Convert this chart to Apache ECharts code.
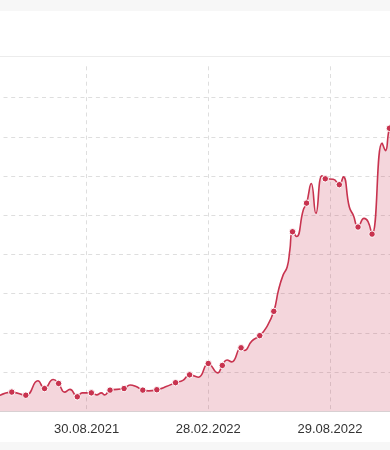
<!DOCTYPE html>
<html><head><meta charset="utf-8">
<script src="https://cdn.jsdelivr.net/npm/echarts@6/dist/echarts.min.js"></script>
<style>html,body{margin:0;padding:0;background:#fff;overflow:hidden;width:390px;height:450px;position:relative}#c{position:absolute;left:-35px;top:0;width:487px;height:450px}</style>
</head><body><div id="c"></div>
<script>
const dates = ['2021-04-13','2021-05-10','2021-05-31','2021-06-18','2021-06-28','2021-07-11','2021-07-19','2021-07-28','2021-08-05','2021-08-16','2021-08-23','2021-09-06','2021-09-14','2021-09-21','2021-09-26','2021-10-04','2021-10-25','2021-11-03','2021-11-12','2021-11-22','2021-12-01','2021-12-13','2021-12-27','2022-01-10','2022-01-21','2022-01-31','2022-02-13','2022-02-28','2022-03-14','2022-03-21','2022-03-28','2022-04-04','2022-04-18','2022-04-23','2022-05-04','2022-05-16','2022-05-26','2022-06-06','2022-06-13','2022-06-20','2022-06-26','2022-06-30','2022-07-04','2022-07-10','2022-07-20','2022-07-25','2022-08-01','2022-08-08','2022-08-17','2022-08-22','2022-09-03','2022-09-12','2022-09-18','2022-09-27','2022-10-03','2022-10-10','2022-10-19','2022-10-25','2022-10-31','2022-11-15','2022-11-20','2022-11-26','2022-12-06'];
const values = [3.1,4.9,4.1,7.8,5.8,8.1,7.1,4.9,5.6,3.7,4.7,4.7,4.2,4.7,4.2,5.4,5.8,6.7,6.3,5.4,5.2,5.5,6.3,7.3,7.9,9.3,8.7,12.2,9.8,11.7,13.1,12.6,16.2,15.5,17.9,19.3,21.4,25.5,30.9,34.8,36.8,41.1,45.8,44.6,51.3,53.1,58.1,50.5,60.1,59.3,59.2,57.8,59.8,52.1,50.0,47.0,49.2,48.4,45.2,68.4,66.5,72.2,76.4];
const dotDates = ['2021-05-10','2021-05-31','2021-06-28','2021-07-19','2021-08-16','2021-09-06','2021-10-04','2021-10-25','2021-11-22','2021-12-13','2022-01-10','2022-01-31','2022-02-28','2022-03-21','2022-04-18','2022-05-16','2022-06-06','2022-07-04','2022-07-25','2022-08-22','2022-09-12','2022-10-10','2022-10-31','2022-11-26'];
const tickStartDate = '2021-03-01';
const tickStepDays = 182;
const tickCount = 4;
const yMin = 0, yMax = 88, yStep = 10;

const DAY = 86400000;
const t0 = Date.parse(tickStartDate + 'T00:00:00Z');
const toDay = s => Math.round((Date.parse(s + 'T00:00:00Z') - t0) / DAY);
const fmt = d => {
  const dt = new Date(t0 + d * DAY);
  const p = n => String(n).padStart(2, '0');
  return p(dt.getUTCDate()) + '.' + p(dt.getUTCMonth() + 1) + '.' + dt.getUTCFullYear();
};
const dotSet = new Set(dotDates);
const lineColor = '#c8334f';
const seriesData = dates.map((d, i) => {
  const item = { value: [toDay(d), values[i]] };
  if (!dotSet.has(d)) item.symbol = 'none';
  return item;
});

const chart = echarts.init(document.getElementById('c'), null, { renderer: 'canvas' });
chart.setOption({
  animation: false,
  backgroundColor: '#ffffff',
  graphic: [
    { type: 'rect', z: -10, shape: { x: 0, y: 0, width: 487, height: 11 }, style: { fill: '#f7f7f7' } },
    { type: 'line', z: -10, shape: { x1: 0, y1: 56.5, x2: 487, y2: 56.5 }, style: { stroke: '#ececec', lineWidth: 1 } },
    { type: 'rect', z: -10, shape: { x: 0, y: 442, width: 487, height: 8 }, style: { fill: '#f7f7f7' } }
  ],
  grid: { left: 0, right: 0.4, top: 66.3, bottom: 38.7, containLabel: false, outerBoundsMode: 'none' },
  xAxis: {
    type: 'value', min: 0, max: tickStepDays * tickCount, interval: tickStepDays,
    axisLine: { show: true, lineStyle: { color: '#d9d9d9', width: 1 } },
    axisTick: { show: false },
    axisLabel: { show: true, margin: 12, color: '#333', fontSize: 13, fontFamily: 'Liberation Sans, Arial, sans-serif', formatter: v => fmt(v) },
    splitLine: { show: true, showMinLine: false, showMaxLine: false, lineStyle: { color: '#dedede', type: [4, 3.7], width: 1 } }
  },
  yAxis: {
    type: 'value', min: yMin, max: yMax, interval: yStep,
    axisLine: { show: false }, axisTick: { show: false }, axisLabel: { show: false },
    splitLine: { show: true, showMinLine: false, showMaxLine: false, lineStyle: { color: '#dedede', type: [4, 3.7], width: 1 } }
  },
  series: [{
    type: 'line', data: seriesData, smooth: 0.5, showAllSymbol: true,
    symbol: 'circle', symbolSize: 6.5,
    lineStyle: { color: lineColor, width: 1.6 },
    itemStyle: { color: lineColor, borderColor: '#fff', borderWidth: 1 },
    areaStyle: { color: lineColor, opacity: 0.2 },
    emphasis: { disabled: true }
  }]
});
</script></body></html>
